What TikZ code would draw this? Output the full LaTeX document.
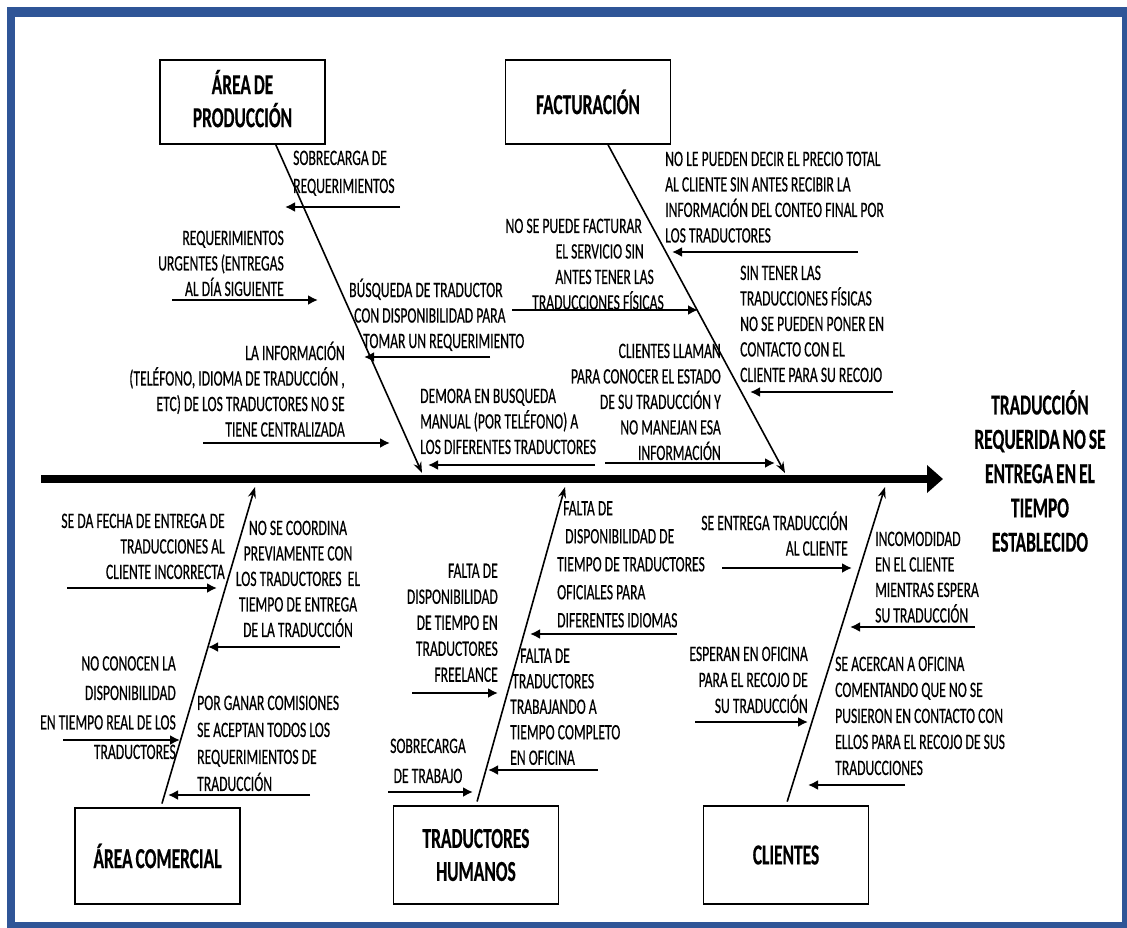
\documentclass[tikz,border=0pt]{standalone}
\usepackage{fontspec}
\setmainfont{Carlito}[FakeStretch=0.62, FakeBold=0.4, BoldFeatures={FakeStretch=0.6, WordSpace=0.75}]
\usetikzlibrary{arrows.meta,calc}
\definecolor{frameblue}{RGB}{47,85,151}
\tikzset{
 txt/.style={inner sep=0pt, font=\fontsize{22}{25.5}\selectfont, execute at begin node={\rule{0pt}{17pt}}},
 ttl/.style={inner sep=0pt, font=\bfseries\fontsize{29}{33}\selectfont, align=center},
 causebox/.style={draw, line width=1.2pt, minimum width=165pt, minimum height=84pt, ttl},
 bone/.style={line width=1.6pt, -{Stealth[length=11pt,width=8pt]}},
 causearr/.style={line width=2.6pt, -{Latex[length=10pt,width=10pt]}},
 spine/.style={line width=8pt, -{Triangle[length=16pt,width=27pt]}},
}
\newcommand\mkarrow[4]{\coordinate (#1a) at (#2,#4); \coordinate (#1b) at (#3,#4); \draw[causearr] (#1a) -- (#1b);}
\newcommand\gap[1]{\rule{#1}{0pt}}
\begin{document}
\begin{tikzpicture}[x=1pt,y=-1pt]
\useasboundingbox (0,0) rectangle (1127,928);
\fill[white] (0,0) rectangle (1127,928);
\fill[frameblue] (7,7) rectangle (1127,928);
\fill[white] (15,17) rectangle (1122,922);

% boxes
\node[causebox] (prod) at (242.5,102) {ÁREA DE\\PRODUCCIÓN\\[-26pt]\mbox{}};
\node[causebox] (fact) at (588,102) {FACTURACIÓN};
\node[causebox, minimum height=96pt] (com) at (157.5,856) {ÁREA COMERCIAL};
\node[causebox, minimum height=98pt] (hum) at (476,855) {TRADUCTORES\\HUMANOS};
\node[causebox, minimum height=98pt] (cli) at (786,855) {CLIENTES};

% effect
\node[ttl, font=\bfseries\fontsize{29}{34.3}\selectfont] (effect) at (1040,471) {TRADUCCIÓN\\REQUERIDA NO SE\\ENTREGA EN EL\\TIEMPO\\ESTABLECIDO};

% spine
\coordinate (spL) at (41,479);
\coordinate (spR) at (943,479);
\draw[spine] (spL) -- (spR);

% bones
\coordinate (pend) at (422,473);
\coordinate (fend) at (785,473);
\coordinate (cend) at (255,487);
\coordinate (hend) at (565,487);
\coordinate (kend) at (885,487);
\draw[bone] ($(prod.south west)!0.70!(prod.south east)$) -- (pend);
\draw[bone] ($(fact.south west)!0.62!(fact.south east)$) -- (fend);
\draw[bone, shorten <=4pt] ($(com.north west)!0.52!(com.north east)$) -- (cend);
\draw[bone, shorten <=4pt] ($(hum.north west)!0.50!(hum.north east)$) -- (hend);
\draw[bone, shorten <=4pt] ($(cli.north west)!0.50!(cli.north east)$) -- (kend);

% production causes
\node[txt, align=left, anchor=north west, font=\fontsize{22}{28}\selectfont] (p1) at (293,150.5) {SOBRECARGA DE\\REQUERIMIENTOS};
\mkarrow{p1}{400}{285}{207}
\node[txt, align=right, anchor=north east] (p2) at (284,230.5) {REQUERIMIENTOS\\URGENTES (ENTREGAS\\AL DÍA SIGUIENTE};
\mkarrow{p2}{172}{318}{300}
\node[txt, align=left, anchor=north west] (p3) at (349,278.5) {BÚSQUEDA DE TRADUCTOR\\\gap{5pt}CON DISPONIBILIDAD PARA\\\gap{14pt}TOMAR UN REQUERIMIENTO};
\mkarrow{p3}{490}{364}{357}
\node[txt, align=right, anchor=north east] (p4) at (345,341.5) {LA INFORMACIÓN\\(TELÉFONO, IDIOMA DE TRADUCCIÓN ,\\ETC) DE LOS TRADUCTORES NO SE\\TIENE CENTRALIZADA};
\mkarrow{p4}{203}{390}{443}
\node[txt, align=left, anchor=north west] (p5) at (420,388.5) {DEMORA EN BUSQUEDA\\MANUAL (POR TELÉFONO) A\\LOS DIFERENTES TRADUCTORES};
\mkarrow{p5}{595}{428}{465}

% facturacion causes
\node[txt, align=left, anchor=north west] (f1) at (665,151.5) {NO LE PUEDEN DECIR EL PRECIO TOTAL\\AL CLIENTE SIN ANTES RECIBIR LA\\INFORMACIÓN DEL CONTEO FINAL POR\\LOS TRADUCTORES};
\mkarrow{f1}{858}{672}{252}
\node[txt, align=right, anchor=north east] (f2) at (664,218.5) {NO SE PUEDE FACTURAR\gap{22pt}\\EL SERVICIO SIN\gap{20pt}\\ANTES TENER LAS\gap{10pt}\\TRADUCCIONES FÍSICAS};
\mkarrow{f2}{512}{698}{310}
\node[txt, align=left, anchor=north west] (f3) at (740,265.5) {SIN TENER LAS\\TRADUCCIONES FÍSICAS\\NO SE PUEDEN PONER EN\\CONTACTO CON EL\\CLIENTE PARA SU RECOJO};
\mkarrow{f3}{893}{750}{392}
\node[txt, align=right, anchor=north east] (f4) at (721,343.5) {CLIENTES LLAMAN\\PARA CONOCER EL ESTADO\\DE SU TRADUCCIÓN Y\\NO MANEJAN ESA\\INFORMACIÓN};
\mkarrow{f4}{605}{775}{463}

% comercial causes
\node[txt, align=right, anchor=north east] (c1) at (225,513.5) {SE DA FECHA DE ENTREGA DE\\TRADUCCIONES AL\\CLIENTE INCORRECTA};
\mkarrow{c1}{67}{217}{588}
\node[txt, align=center, anchor=north] (c2) at (298,520.5) {NO SE COORDINA\\PREVIAMENTE CON\\LOS TRADUCTORES~ EL\\TIEMPO DE ENTREGA\\DE LA TRADUCCIÓN};
\mkarrow{c2}{340}{208}{647}
\node[txt, align=right, anchor=north east, font=\fontsize{22}{29.5}\selectfont] (c3) at (176,656) {NO CONOCEN LA\\DISPONIBILIDAD\\EN TIEMPO REAL DE LOS\\TRADUCTORES};
\mkarrow{c3}{63}{180}{740}
\node[txt, align=left, anchor=north west, font=\fontsize{22}{27}\selectfont] (c4) at (197,695.5) {POR GANAR COMISIONES\\SE ACEPTAN TODOS LOS\\REQUERIMIENTOS DE\\TRADUCCIÓN};
\mkarrow{c4}{310}{168}{795}

% traductores causes
\node[txt, align=left, anchor=north west, font=\fontsize{22}{28}\selectfont] (t1) at (557,501) {\gap{6pt}FALTA DE\\\gap{8pt}DISPONIBILIDAD DE\\TIEMPO DE TRADUCTORES\\OFICIALES PARA\\DIFERENTES IDIOMAS};
\mkarrow{t1}{677}{530}{634}
\node[txt, align=right, anchor=north east, font=\fontsize{22}{26}\selectfont] (t2) at (498,563.5) {FALTA DE\\DISPONIBILIDAD\\DE TIEMPO EN\\TRADUCTORES\\FREELANCE};
\mkarrow{t2}{412}{498}{693}
\node[txt, align=left, anchor=north west] (t3) at (510,648.5) {\gap{10pt}FALTA DE\\\gap{2pt}TRADUCTORES\\TRABAJANDO A\\TIEMPO COMPLETO\\EN OFICINA};
\mkarrow{t3}{598}{488}{770}
\node[txt, align=center, anchor=north, font=\fontsize{22}{30}\selectfont] (t4) at (428,738.5) {SOBRECARGA\\DE TRABAJO};
\mkarrow{t4}{388}{473}{792}

% clientes causes
\node[txt, align=right, anchor=north east] (k1) at (848,511.5) {SE ENTREGA TRADUCCIÓN\\AL CLIENTE};
\mkarrow{k1}{722}{852}{568}
\node[txt, align=left, anchor=north west] (k2) at (875,531.5) {INCOMODIDAD\\EN EL CLIENTE\\MIENTRAS ESPERA\\SU TRADUCCIÓN};
\mkarrow{k2}{975}{850}{627}
\node[txt, align=right, anchor=north east, font=\fontsize{22}{26}\selectfont] (k3) at (808,646.5) {ESPERAN EN OFICINA\\PARA EL RECOJO DE\\SU TRADUCCIÓN};
\mkarrow{k3}{695}{808}{722}
\node[txt, align=left, anchor=north west, font=\fontsize{22}{26}\selectfont] (k4) at (835,656.5) {SE ACERCAN A OFICINA\\COMENTANDO QUE NO SE\\PUSIERON EN CONTACTO CON\\ELLOS PARA EL RECOJO DE SUS\\TRADUCCIONES};
\mkarrow{k4}{905}{808}{785}
\end{tikzpicture}
\end{document}
